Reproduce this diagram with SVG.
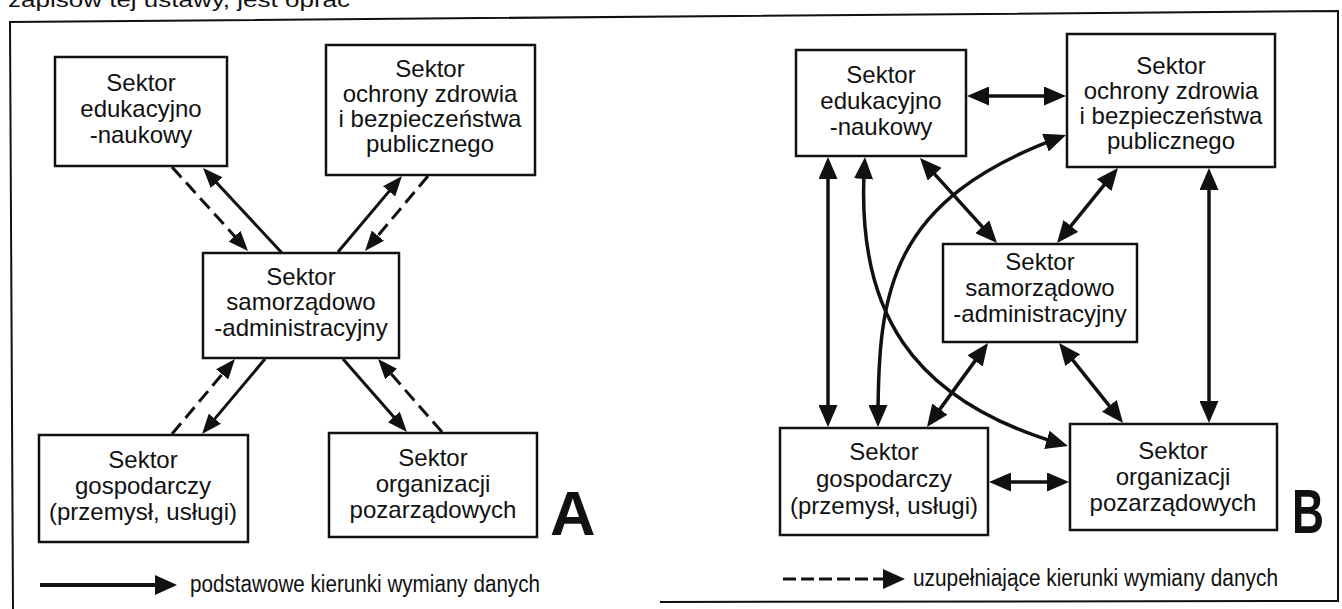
<svg xmlns="http://www.w3.org/2000/svg" width="1342" height="609" viewBox="0 0 1342 609">
<style>
.box{fill:#fff;stroke:#111;stroke-width:2.5}
.t{font-family:"Liberation Sans",Arial,sans-serif;font-size:24px;fill:#111;text-anchor:middle}
.c{stroke:#111;stroke-width:3;fill:none}
.cb{stroke:#111;stroke-width:3.5;fill:none}
.d{stroke-dasharray:14 7}
.lg{font-family:"Liberation Sans",Arial,sans-serif;font-size:23px;fill:#111}
.big{font-family:"Liberation Sans",Arial,sans-serif;font-weight:bold;font-size:63px;fill:#111}
</style>
<defs>
<marker id="ma" viewBox="0 0 20 16" refX="14" refY="8" markerWidth="20" markerHeight="16" markerUnits="userSpaceOnUse" orient="auto-start-reverse"><path d="M0,0 L20,8 L0,16 z" fill="#111"/></marker>
<marker id="mb" viewBox="0 0 22 19" refX="16" refY="9.5" markerWidth="22" markerHeight="19" markerUnits="userSpaceOnUse" orient="auto-start-reverse"><path d="M0,0 L22,9.5 L0,19 z" fill="#111"/></marker>
<marker id="ml" viewBox="0 0 22 20" refX="16" refY="10" markerWidth="22" markerHeight="20" markerUnits="userSpaceOnUse" orient="auto"><path d="M0,0 L22,10 L0,20 z" fill="#111"/></marker>
</defs>
<rect width="1342" height="609" fill="#fff"/>
<text x="8" y="7" font-family="Liberation Sans, Arial, sans-serif" font-size="20" fill="#111" textLength="342" lengthAdjust="spacingAndGlyphs">zapisów tej ustawy, jest oprac</text>
<path d="M13,609 L10,22 L1338,11 L1338,601 L660,602" fill="none" stroke="#111" stroke-width="2"/>

<g id="connectors">
<line class="c d" x1="172" y1="167" x2="244" y2="246.6" marker-end="url(#ma)"/>
<line class="c" x1="282" y1="253" x2="207.1" y2="172.4" marker-end="url(#ma)"/>
<line class="c" x1="338" y1="252" x2="398.1" y2="180.6" marker-end="url(#ma)"/>
<line class="c d" x1="428" y1="176" x2="368.9" y2="246.4" marker-end="url(#ma)"/>
<line class="c d" x1="172" y1="434" x2="231.1" y2="363.6" marker-end="url(#ma)"/>
<line class="c" x1="265" y1="359" x2="205.9" y2="429.4" marker-end="url(#ma)"/>
<line class="c" x1="343" y1="359" x2="403" y2="427.5" marker-end="url(#ma)"/>
<line class="c d" x1="442" y1="432" x2="382" y2="363.5" marker-end="url(#ma)"/>

<line class="cb" x1="973" y1="96" x2="1060" y2="96" marker-start="url(#mb)" marker-end="url(#mb)"/>
<line class="cb" x1="828" y1="163" x2="828" y2="421" marker-start="url(#mb)" marker-end="url(#mb)"/>
<path class="cb" d="M864.6,163 C855,310 910,400 1062.2,444.3" marker-start="url(#mb)" marker-end="url(#mb)"/>
<path class="cb" d="M878,421 C878,290 890,200 1060.4,137.1" marker-start="url(#mb)" marker-end="url(#mb)"/>
<line class="cb" x1="924" y1="162.4" x2="993" y2="238.6" marker-start="url(#mb)" marker-end="url(#mb)"/>
<line class="cb" x1="1114.2" y1="172.7" x2="1060.8" y2="238.3" marker-start="url(#mb)" marker-end="url(#mb)"/>
<line class="cb" x1="1209" y1="174" x2="1209" y2="417" marker-start="url(#mb)" marker-end="url(#mb)"/>
<line class="cb" x1="984.5" y1="347.9" x2="930.5" y2="422.1" marker-start="url(#mb)" marker-end="url(#mb)"/>
<line class="cb" x1="1062.8" y1="347.7" x2="1119.3" y2="418.3" marker-start="url(#mb)" marker-end="url(#mb)"/>
<line class="cb" x1="995" y1="482" x2="1063" y2="482" marker-start="url(#mb)" marker-end="url(#mb)"/>
</g>

<g id="A-edu"><rect class="box" x="55" y="57" width="172" height="109"/>
<text class="t" x="141" y="91">Sektor</text><text class="t" x="141" y="117">edukacyjno</text><text class="t" x="141" y="143">-naukowy</text></g>
<g id="A-health"><rect class="box" x="326" y="45" width="209" height="130"/>
<text class="t" x="430" y="77">Sektor</text><text class="t" x="430" y="102">ochrony zdrowia</text><text class="t" x="430" y="127">i bezpieczeństwa</text><text class="t" x="430" y="152">publicznego</text></g>
<g id="A-center"><rect class="box" x="203" y="253" width="196" height="105"/>
<text class="t" x="301" y="285">Sektor</text><text class="t" x="301" y="310">samorządowo</text><text class="t" x="301" y="336">-administracyjny</text></g>
<g id="A-gosp"><rect class="box" x="39" y="435" width="209" height="107"/>
<text class="t" x="143" y="468">Sektor</text><text class="t" x="143" y="494">gospodarczy</text><text class="t" x="143" y="520">(przemysł, usługi)</text></g>
<g id="A-org"><rect class="box" x="329" y="433" width="208" height="104"/>
<text class="t" x="433" y="466">Sektor</text><text class="t" x="433" y="492">organizacji</text><text class="t" x="433" y="518">pozarządowych</text></g>
<g id="A-label"><text class="big" x="550" y="535">A</text></g>

<g id="B-edu"><rect class="box" x="796" y="50" width="170" height="106"/>
<text class="t" x="881" y="83">Sektor</text><text class="t" x="881" y="109">edukacyjno</text><text class="t" x="881" y="135">-naukowy</text></g>
<g id="B-health"><rect class="box" x="1067" y="34" width="208" height="133"/>
<text class="t" x="1171" y="74">Sektor</text><text class="t" x="1171" y="99">ochrony zdrowia</text><text class="t" x="1171" y="124">i bezpieczeństwa</text><text class="t" x="1171" y="149">publicznego</text></g>
<g id="B-center"><rect class="box" x="943" y="244" width="194" height="98"/>
<text class="t" x="1040" y="270">Sektor</text><text class="t" x="1040" y="296">samorządowo</text><text class="t" x="1040" y="322">-administracyjny</text></g>
<g id="B-gosp"><rect class="box" x="780" y="428" width="208" height="107"/>
<text class="t" x="884" y="460">Sektor</text><text class="t" x="884" y="487">gospodarczy</text><text class="t" x="884" y="514">(przemysł, usługi)</text></g>
<g id="B-org"><rect class="box" x="1070" y="424" width="207" height="106"/>
<text class="t" x="1173" y="459">Sektor</text><text class="t" x="1173" y="485">organizacji</text><text class="t" x="1173" y="511">pozarządowych</text></g>
<g id="B-label"><text class="big" x="1292" y="533" textLength="32" lengthAdjust="spacingAndGlyphs">B</text></g>

<g id="legend">
<line x1="40" y1="585" x2="171" y2="585" stroke="#111" stroke-width="4" marker-end="url(#ml)"/>
<text class="lg" x="190" y="592" textLength="350" lengthAdjust="spacingAndGlyphs">podstawowe kierunki wymiany danych</text>
<line x1="783" y1="579" x2="899" y2="579" stroke="#111" stroke-width="3" stroke-dasharray="13 5" marker-end="url(#ml)"/>
<text class="lg" x="913" y="586" textLength="365" lengthAdjust="spacingAndGlyphs">uzupełniające kierunki wymiany danych</text>
</g>
</svg>
